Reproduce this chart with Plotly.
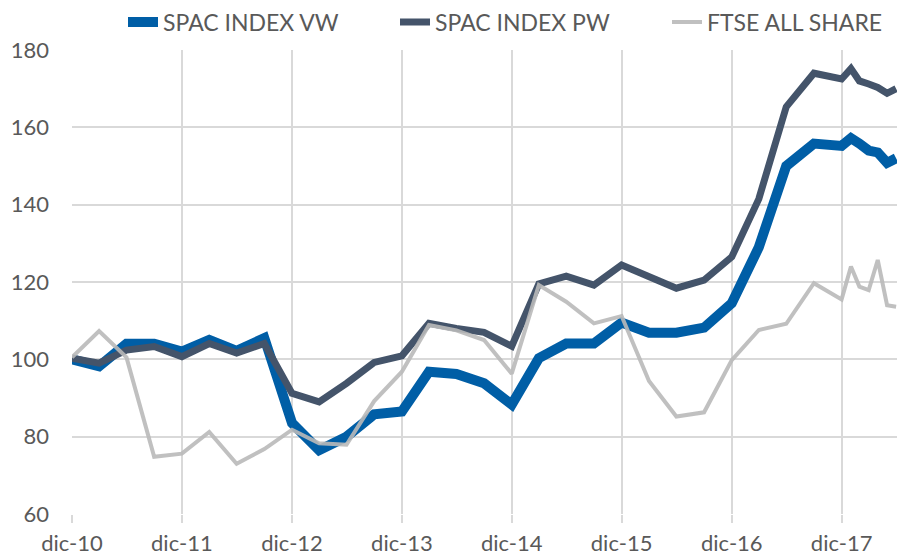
import plotly.graph_objects as go

# Quarterly observations Dec-10 .. Dec-17, then monthly Jan-18 .. Jun-18
dates = [
    "2010-12-31", "2011-03-31", "2011-06-30", "2011-09-30",
    "2011-12-31", "2012-03-31", "2012-06-30", "2012-09-30",
    "2012-12-31", "2013-03-31", "2013-06-30", "2013-09-30",
    "2013-12-31", "2014-03-31", "2014-06-30", "2014-09-30",
    "2014-12-31", "2015-03-31", "2015-06-30", "2015-09-30",
    "2015-12-31", "2016-03-31", "2016-06-30", "2016-09-30",
    "2016-12-31", "2017-03-31", "2017-06-30", "2017-09-30",
    "2017-12-31", "2018-01-31", "2018-02-28", "2018-03-31",
    "2018-04-30", "2018-05-31", "2018-06-30",
]

spac_vw = [
    100.0, 98.2, 104.0, 104.0, 102.0, 105.0, 102.2, 105.5,
    83.5, 76.5, 80.0, 85.8, 86.5, 96.8, 96.2, 93.8,
    88.3, 100.3, 104.1, 104.1, 109.5, 106.9, 106.9, 108.2,
    114.5, 129.0, 150.0, 155.8, 155.2, 157.2, 155.8, 154.0,
    153.5, 150.8, 152.0,
]

spac_pw = [
    100.3, 99.0, 102.4, 103.3, 100.7, 104.1, 101.6, 104.1,
    91.2, 89.0, 93.8, 99.2, 100.9, 109.3, 108.0, 107.0,
    103.4, 119.5, 121.5, 119.2, 124.4, 121.2, 118.4, 120.5,
    126.5, 141.5, 165.3, 174.0, 172.5, 175.2, 172.0, 171.2,
    170.3, 168.8, 170.0,
]

ftse_all_share = [
    100.5, 107.3, 100.5, 74.8, 75.6, 81.2, 73.0, 76.8,
    81.8, 78.3, 77.9, 89.2, 96.8, 108.9, 107.5, 105.0,
    96.3, 119.2, 114.9, 109.3, 111.2, 94.4, 85.2, 86.3,
    99.8, 107.6, 109.2, 119.7, 115.5, 124.0, 118.8, 117.9,
    125.7, 114.0, 113.6,
]

tick_dates = ["2010-12-31", "2011-12-31", "2012-12-31", "2013-12-31",
              "2014-12-31", "2015-12-31", "2016-12-31", "2017-12-31"]
tick_labels = ["dic-10", "dic-11", "dic-12", "dic-13",
               "dic-14", "dic-15", "dic-16", "dic-17"]
y_ticks = [60, 80, 100, 120, 140, 160, 180]

FONT = "Lato, 'Open Sans', sans-serif"
TXT = "#595959"
GRID = "#D9D9D9"
W, H = 897, 556

fig = go.Figure()
fig.add_trace(go.Scatter(x=dates, y=spac_vw, name="SPAC INDEX VW", mode="lines",
                         line=dict(color="#005EA6", width=10), legend="legend"))
fig.add_trace(go.Scatter(x=dates, y=spac_pw, name="SPAC INDEX PW", mode="lines",
                         line=dict(color="#44546A", width=7), legend="legend2"))
fig.add_trace(go.Scatter(x=dates, y=ftse_all_share, name="FTSE ALL SHARE", mode="lines",
                         line=dict(color="rgba(185,185,185,0.9)", width=4), legend="legend3"))


def leg(text_left_px):
    return dict(orientation="h", xref="container", yref="container",
                x=(text_left_px - 43) / W, xanchor="left",
                y=1 - 22 / H, yanchor="middle",
                font=dict(family=FONT, size=23, color=TXT),
                bgcolor="rgba(0,0,0,0)", itemwidth=30)


fig.update_layout(
    width=W, height=H,
    margin=dict(l=72, r=0, t=50, b=H - 514, autoexpand=False),
    paper_bgcolor="white", plot_bgcolor="white",
    font=dict(family=FONT, size=22, color=TXT),
    showlegend=True,
    legend=leg(166), legend2=leg(438), legend3=leg(710),
    xaxis=dict(
        type="date",
        range=["2010-12-31", "2018-07-03"],
        tickvals=tick_dates, ticktext=tick_labels,
        showgrid=True, gridcolor=GRID, gridwidth=1.5,
        ticks="outside", ticklen=8, tickcolor=GRID, tickwidth=1.5,
        ticklabelstandoff=2,
        showline=False, zeroline=False,
        tickfont=dict(family=FONT, size=22, color=TXT),
    ),
    yaxis=dict(
        range=[60, 180],
        tickvals=y_ticks,
        showgrid=True, gridcolor=GRID, gridwidth=1.5,
        ticks="", ticklabelstandoff=22,
        showline=False, zeroline=False,
        tickfont=dict(family=FONT, size=22, color=TXT),
    ),
)

fig.write_html(
    "out.html",
    config={"displayModeBar": False},
    post_script="document.body.style.margin='0';"
                "document.documentElement.style.overflow='hidden';",
)
